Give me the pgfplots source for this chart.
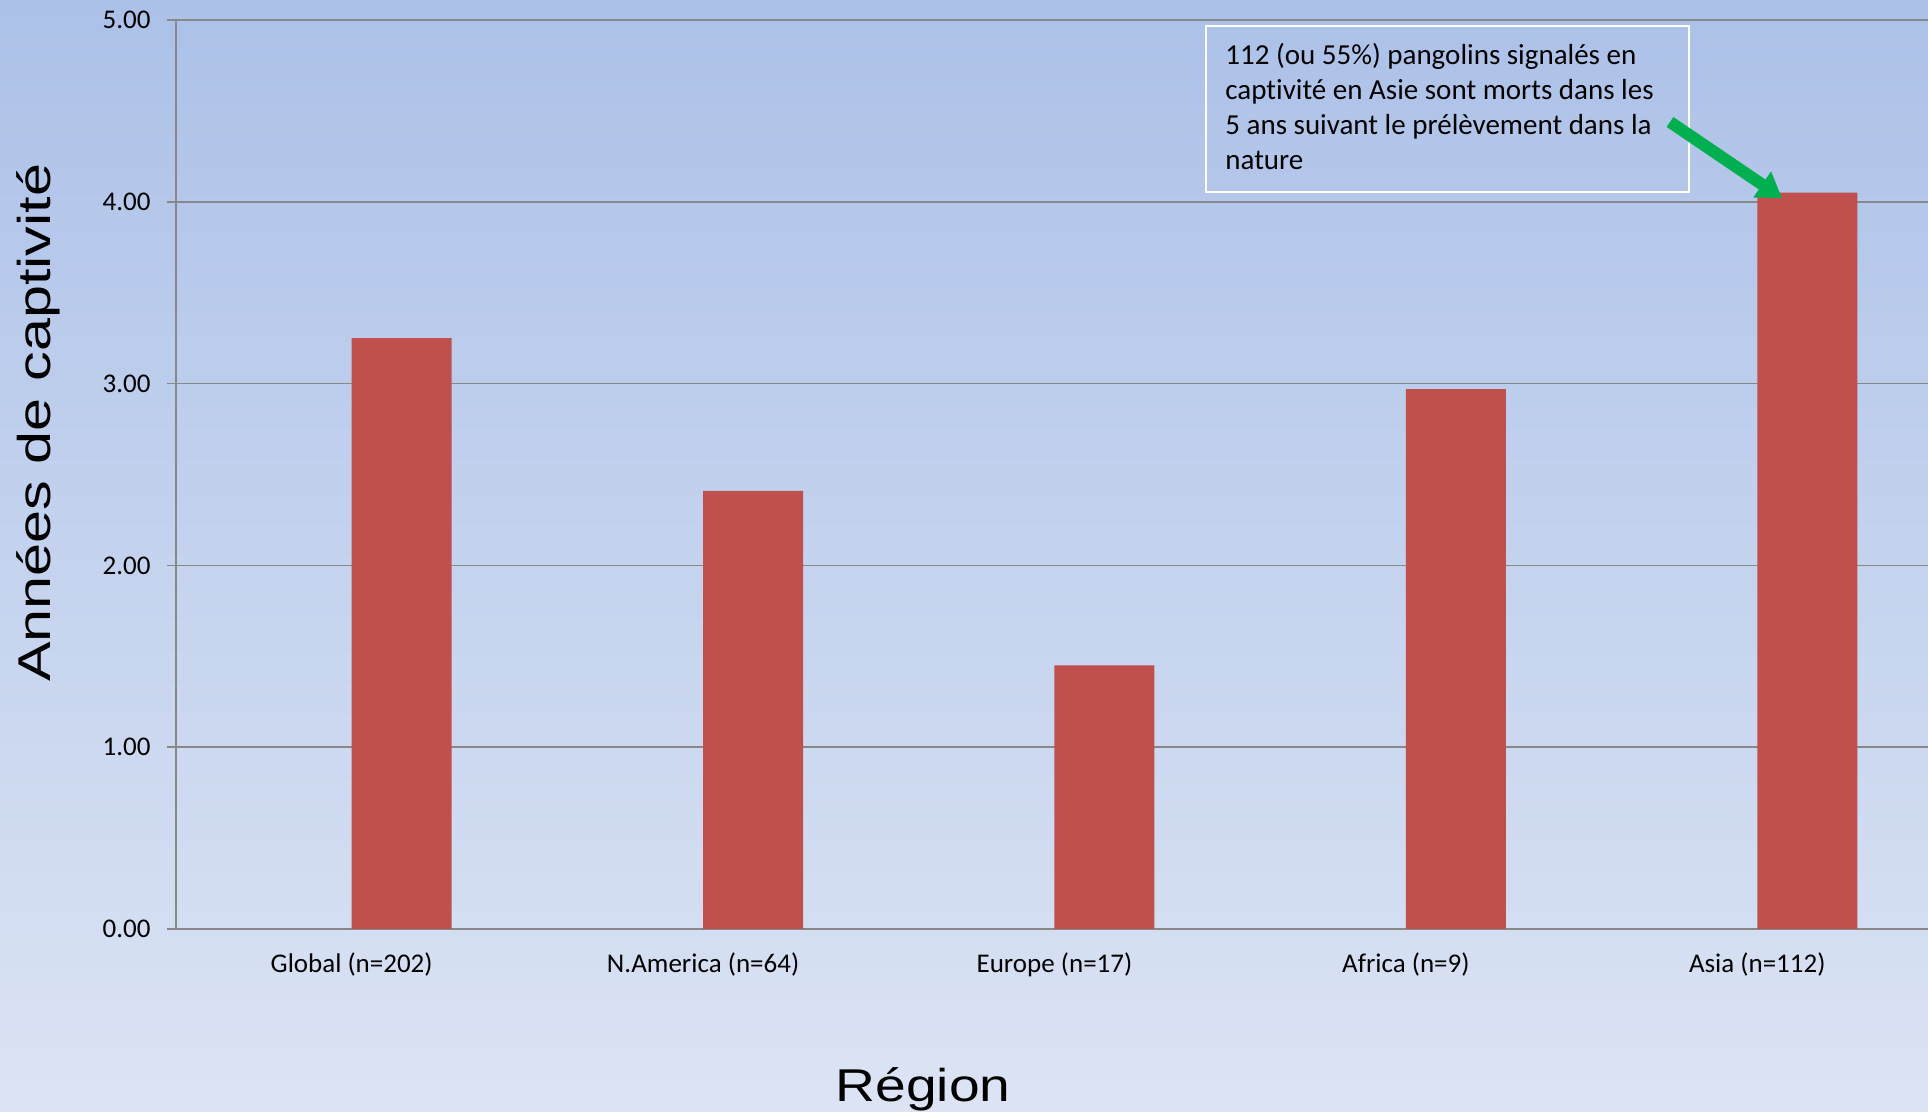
\documentclass[border=0pt]{standalone}
\usepackage{graphicx}
\usepackage{pgfplots}
\pgfplotsset{compat=1.18}
\usepackage{fontspec}
\setmainfont{Carlito}[Ligatures=NoCommon]
\newfontfamily\titlefont{Liberation Sans}
\usetikzlibrary{arrows.meta}

\definecolor{barred}{HTML}{C0504D}
\definecolor{gridgray}{HTML}{888888}
\definecolor{arrowgreen}{HTML}{00B050}
\definecolor{bgtop}{RGB}{172,193,232}
\definecolor{bgbot}{RGB}{220,228,244}

\begin{document}
\begin{tikzpicture}
\useasboundingbox (0,0) rectangle (964pt,556pt);
% chart background
\shade[top color=bgtop, bottom color=bgbot] (0,0) rectangle (964pt,556pt);

\begin{axis}[
  at={(88pt,91.5pt)}, anchor=south west,
  scale only axis, width=876pt, height=454.5pt,
  xmin=-0.5, xmax=4.486, ymin=0, ymax=5,
  axis x line=bottom, axis y line=left,
  axis line style={gridgray, line width=0.9pt, -},
  xtick={0,...,4},
  xticklabels={Global (n=202), N.America (n=64), Europe (n=17), Africa (n=9), Asia (n=112)},
  x tick style={draw=none},
  xticklabel style={font=\fontsize{13.5}{15}\selectfont, anchor=center, yshift=-13.5pt},
  ytick={0,1,...,5},
  y tick style={gridgray, line width=0.8pt},
  tick align=outside, major tick length=4.5pt,
  yticklabel style={font=\fontsize{13.5}{15}\selectfont, anchor=east, inner sep=0pt, xshift=-8pt},
  /pgf/number format/fixed,
  /pgf/number format/fixed zerofill,
  /pgf/number format/precision=2,
  /pgf/number format/assume math mode=true,
  ymajorgrids, grid style={gridgray, line width=0.75pt},
  ybar, bar width=0.2846, bar shift=0.1423,
]
\addplot[fill=barred, draw=none] coordinates {(0,3.25) (1,2.41) (2,1.45) (3,2.97) (4,4.05)};
\end{axis}

% callout box
\draw[white, line width=1pt] (603pt,459.75pt) rectangle (844.5pt,543.2pt);
\begin{scope}[every node/.style={anchor=base west, inner sep=0pt, font=\fontsize{14.5}{17}\selectfont}]
\node at (612.5pt,523.95pt) {112 (ou 55\%) pangolins signalés en};
\node at (612.5pt,506.45pt) {captivité en Asie sont morts dans les};
\node at (612.5pt,488.95pt) {5 ans suivant le prélèvement dans la};
\node at (612.5pt,471.45pt) {nature};
\end{scope}
\draw[arrowgreen, line width=6pt, -{Triangle[length=12pt,width=15pt]}] (835pt,495pt) -- (891pt,457pt);

% axis titles
\node[anchor=base, inner sep=0pt, font=\titlefont\fontsize{23}{27}\selectfont] at (461.5pt,5pt) {\scalebox{1.2}[1]{Région}};
\node[rotate=90, anchor=base, inner sep=0pt, font=\titlefont\fontsize{23}{27}\selectfont] at (25pt,344.6pt) {\scalebox{1.29}[1]{Années de captivité}};
\end{tikzpicture}
\end{document}
